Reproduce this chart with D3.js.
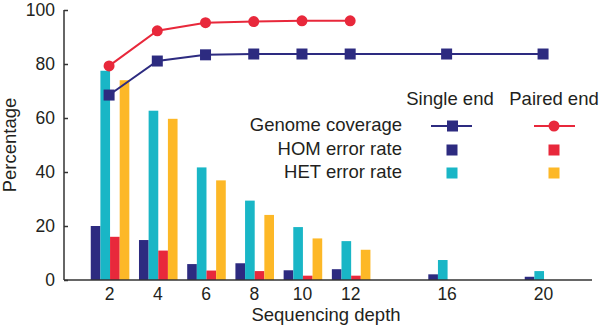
<html>
<head>
<meta charset="utf-8">
<script src="https://cdn.jsdelivr.net/npm/d3@7"></script>
<style>
  body { margin: 0; background: #fff; }
  text { font-family: 'Liberation Sans', Arial, sans-serif; fill: #231f20; }
</style>
</head>
<body>
<div id="chart"></div>
<script>
  // data
  const depths = [2, 4, 6, 8, 10, 12, 16, 20]
  const pairedDepths = [2, 4, 6, 8, 10, 12]
  const singleCoverage = [68.5, 81.1, 83.4, 83.7, 83.7, 83.7, 83.7, 83.7]
  const pairedCoverage = [79.3, 92.3, 95.3, 95.7, 96, 96]
  const homSingle = [20, 14.8, 5.9, 6.2, 3.6, 4, 2.1, 1.2]
  const hetSingle = [77.5, 62.7, 41.7, 29.4, 19.6, 14.4, 7.4, 3.3]
  const homPaired = [16, 10.9, 3.5, 3.3, 1.6, 1.6]
  const hetPaired = [74, 59.7, 36.9, 24.1, 15.4, 11.2]
  const yTicks = [0, 20, 40, 60, 80, 100]

  const navy = "#2d2b80", cyan = "#19b6c6", red = "#e8283b", yellow = "#fdb827"
  const fs = 18.5, tfs = 17.5

  const width = 600, height = 328
  const svg = d3.select("#chart").append("svg")
    .attr("width", width).attr("height", height)

  const x = d3.scaleLinear().domain([0.13, 22.03]).range([64, 592])
  const y = d3.scaleLinear().domain([0, 100]).range([280, 10])

  //bars
  const barW = 0.4
  const barSets = [
    { vals: homSingle, ds: depths, k: 0, c: navy },
    { vals: hetSingle, ds: depths, k: 1, c: cyan },
    { vals: homPaired, ds: pairedDepths, k: 2, c: red },
    { vals: hetPaired, ds: pairedDepths, k: 3, c: yellow },
  ]
  barSets.forEach(s => {
    svg.append("g").selectAll("rect").data(s.vals).join("rect")
      .attr("x", (d, i) => x(s.ds[i] + (s.k - 2) * barW + 0.04))
      .attr("width", x(barW) - x(0))
      .attr("y", d => y(d))
      .attr("height", d => y(0) - y(d))
      .attr("fill", s.c)
  })

  //axes
  const yAxis = svg.append("g").attr("transform", `translate(${x.range()[0]},0)`)
    .call(d3.axisLeft(y).tickValues(yTicks).tickSize(-4).tickPadding(9))
  const xAxis = svg.append("g").attr("transform", `translate(0,${y(0)})`)
    .call(d3.axisBottom(x).tickValues(depths).tickSize(0).tickPadding(7.5))
  ;[yAxis, xAxis].forEach(a => {
    a.selectAll("path,line").attr("stroke", "#333").attr("stroke-width", 1.5)
    a.selectAll("text").attr("font-size", tfs).attr("fill", "#231f20")
      .attr("font-family", "'Liberation Sans', Arial, sans-serif")
  })
  xAxis.select(".domain").attr("d", `M${x.range()[0]},0H${x.range()[1]}`)
  yAxis.select(".domain").attr("d", `M0,${y(0)}V${y(100)}`)

  svg.append("text").text("Sequencing depth")
    .attr("x", 326).attr("y", 321).attr("text-anchor", "middle").attr("font-size", fs)
  svg.append("text").text("Percentage")
    .attr("transform", "translate(16,145) rotate(-90)")
    .attr("text-anchor", "middle").attr("font-size", fs)

  //lines
  const line = d3.line().x(d => x(d[0])).y(d => y(d[1]))
  const single = depths.map((d, i) => [d, singleCoverage[i]])
  const paired = pairedDepths.map((d, i) => [d, pairedCoverage[i]])
  svg.append("path").attr("d", line(single)).attr("fill", "none")
    .attr("stroke", navy).attr("stroke-width", 2)
  svg.append("path").attr("d", line(paired)).attr("fill", "none")
    .attr("stroke", red).attr("stroke-width", 2)
  svg.append("g").selectAll("rect").data(single).join("rect")
    .attr("x", d => x(d[0]) - 5.5).attr("y", d => y(d[1]) - 5.5)
    .attr("width", 11).attr("height", 11).attr("fill", navy)
  svg.append("g").selectAll("circle").data(paired).join("circle")
    .attr("cx", d => x(d[0])).attr("cy", d => y(d[1]))
    .attr("r", 5.5).attr("fill", red)

  //legend
  const lg = svg.append("g")
  lg.append("text").text("Single end").attr("x", 450).attr("y", 105)
    .attr("text-anchor", "middle").attr("font-size", fs)
  lg.append("text").text("Paired end").attr("x", 554).attr("y", 105)
    .attr("text-anchor", "middle").attr("font-size", fs)
  const rows = ["Genome coverage", "HOM error rate", "HET error rate"]
  lg.selectAll("text.row").data(rows).join("text").attr("class", "row")
    .text(d => d).attr("x", 402).attr("y", (d, i) => 131 + i * 23.5)
    .attr("text-anchor", "end").attr("font-size", fs)
  lg.append("line").attr("x1", 431).attr("x2", 472).attr("y1", 126).attr("y2", 126)
    .attr("stroke", navy).attr("stroke-width", 2)
  lg.append("rect").attr("x", 447).attr("y", 120.5).attr("width", 11).attr("height", 11).attr("fill", navy)
  lg.append("line").attr("x1", 534).attr("x2", 575).attr("y1", 126).attr("y2", 126)
    .attr("stroke", red).attr("stroke-width", 2)
  lg.append("circle").attr("cx", 554).attr("cy", 126).attr("r", 5.5).attr("fill", red)
  const sq = [[452, 150, navy], [554, 150, red], [452, 173, cyan], [554, 173, yellow]]
  lg.selectAll("rect.sq").data(sq).join("rect").attr("class", "sq")
    .attr("x", d => d[0] - 5.5).attr("y", d => d[1] - 5.5)
    .attr("width", 11).attr("height", 11).attr("fill", d => d[2])
</script>
</body>
</html>
